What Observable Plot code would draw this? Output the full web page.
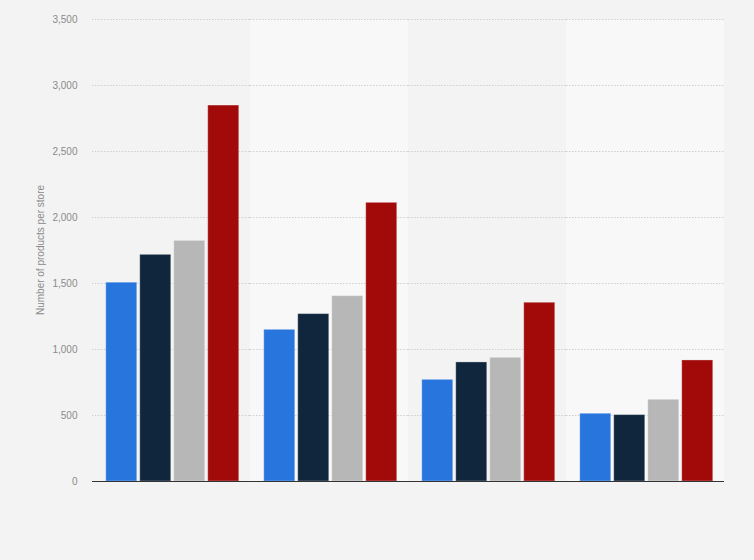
<!DOCTYPE html>
<html>
<head>
<meta charset="utf-8">
<script src="https://cdn.jsdelivr.net/npm/d3@7"></script>
<script src="https://cdn.jsdelivr.net/npm/@observablehq/plot@0.6"></script>
<style>
  html, body { margin: 0; padding: 0; background: #f3f3f3; }
  #chart { width: 754px; height: 560px; }
  svg { display: block; }
</style>
</head>
<body>
<div id="chart"></div>
<script>
// Categories (groups) and series
const groups = ["Group 1", "Group 2", "Group 3", "Group 4"];
const series = ["Series 1", "Series 2", "Series 3", "Series 4"];
const seriesColors = ["#2876dd", "#10263d", "#b7b7b7", "#a20a0a"];

// Values per series across the four groups
const series1Values = [1506, 1149, 770, 513];
const series2Values = [1717, 1268, 902, 503];
const series3Values = [1823, 1404, 937, 619];
const series4Values = [2848, 2111, 1354, 917];

const yTicks = [0, 500, 1000, 1500, 2000, 2500, 3000, 3500];
const yLabel = "Number of products per store";
const shadedGroups = ["Group 2", "Group 4"];

const allValues = [series1Values, series2Values, series3Values, series4Values];
const data = [];
series.forEach((s, si) => {
  groups.forEach((g, gi) => {
    data.push({group: g, series: s, value: allValues[si][gi]});
  });
});
const yMax = yTicks[yTicks.length - 1];

const chart = Plot.plot({
  width: 754,
  height: 560,
  marginLeft: 92,
  marginRight: 30,
  marginTop: 19,
  marginBottom: 79,
  style: {background: "#f3f3f3", fontFamily: "'Liberation Sans', Arial, sans-serif", fontSize: "10px"},
  fx: {domain: groups, padding: 0, axis: null},
  x: {domain: series, paddingInner: 0.088, paddingOuter: 0.368, align: 0.55, round: false, axis: null},
  y: {domain: [0, yMax], axis: null},
  color: {domain: series, range: seriesColors},
  marks: [
    Plot.barY(shadedGroups, {fx: d => d, y1: 0, y2: yMax, fill: "#f8f8f8"}),
    Plot.gridY(yTicks.slice(1), {stroke: "#cfcfcf", strokeOpacity: 1, strokeDasharray: "1.5,1.5"}),
    Plot.axisY(yTicks, {
      tickSize: 0, tickPadding: 15, tickFormat: d3.format(","),
      fill: "#8a8a8a", fontSize: 10,
      label: null
    }),
    Plot.barY(data, {
      fx: "group", x: "series", y: "value", fill: "series",
      stroke: "#ffffff", strokeOpacity: 0.3, strokeWidth: 1, inset: 0
    }),
    Plot.ruleY([0], {stroke: "#333333", strokeWidth: 1.2})
  ]
});

// Y axis title as real text inside the SVG
const svg = d3.select(chart);
svg.append("text")
  .attr("transform", "translate(44,250) rotate(-90)")
  .attr("text-anchor", "middle")
  .attr("fill", "#8a8a8a")
  .style("font-family", "'Liberation Sans', Arial, sans-serif")
  .style("font-size", "10px")
  .text(yLabel);

document.getElementById("chart").appendChild(chart);
</script>
</body>
</html>
